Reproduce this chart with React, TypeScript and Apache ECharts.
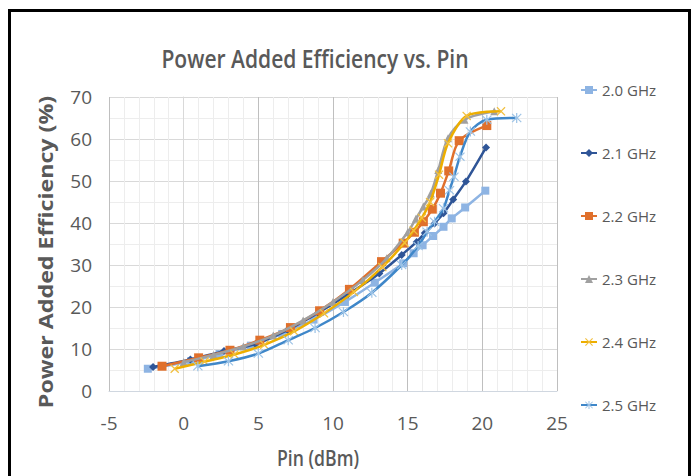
import React, { useEffect, useRef } from "react";
import * as echarts from "echarts";

const seriesNames = ["2.0 GHz", "2.1 GHz", "2.2 GHz", "2.3 GHz", "2.4 GHz", "2.5 GHz"];

const s20: number[][] = [[-2.4, 5.3], [0.5, 7.1], [2.4, 8.8], [4.5, 10.8], [6.6, 13.6], [8.7, 17.0], [10.8, 21.2], [12.8, 25.8], [14.7, 30.4], [15.4, 32.8], [16.0, 34.7], [16.7, 36.9], [17.4, 39.1], [17.95, 41.1], [18.85, 43.7], [20.2, 47.7]];
const s21: number[][] = [[-2.05, 5.7], [0.45, 7.5], [2.7, 9.5], [4.8, 11.2], [6.95, 14.5], [9.0, 18.6], [11.0, 23.0], [13.1, 28.0], [14.6, 32.4], [15.6, 35.5], [16.15, 37.6], [16.8, 39.9], [17.4, 42.3], [18.05, 45.6], [18.9, 49.9], [20.25, 58.0]];
const s22: number[][] = [[-1.45, 5.9], [1.0, 7.9], [3.1, 9.7], [5.1, 12.1], [7.15, 15.1], [9.1, 19.1], [11.1, 24.2], [13.25, 30.8], [14.7, 35.2], [15.45, 37.8], [16.05, 40.3], [16.65, 43.3], [17.2, 47.1], [17.75, 52.4], [18.45, 59.6], [20.3, 63.2]];
const s23: number[][] = [[0.0, 6.9], [2.0, 8.6], [4.0, 10.6], [6.0, 13.2], [8.0, 16.8], [10.0, 21.2], [12.0, 26.4], [13.6, 31.6], [15.0, 37.8], [15.55, 41.0], [16.05, 43.9], [16.55, 47.0], [17.05, 52.6], [17.7, 60.2], [18.8, 64.6], [20.8, 66.6]];
const s24: number[][] = [[-0.6, 5.3], [1.4, 7.0], [3.4, 8.7], [5.4, 11.0], [7.4, 14.2], [9.4, 18.5], [11.4, 23.6], [13.3, 29.5], [14.8, 35.3], [15.4, 38.2], [15.95, 41.2], [16.5, 45.0], [17.1, 51.5], [17.7, 59.0], [18.95, 65.5], [21.25, 66.6]];
const s25: number[][] = [[0.95, 5.9], [3.0, 7.1], [5.0, 8.9], [7.0, 12.1], [8.8, 15.0], [10.7, 18.8], [12.6, 23.4], [14.6, 30.0], [15.7, 34.5], [16.3, 37.9], [16.8, 40.3], [17.4, 43.5], [17.8, 47.8], [18.1, 51.0], [18.5, 55.8], [19.2, 61.8], [20.3, 64.6], [22.3, 65.0]];

const xTicks = { min: -5, max: 25, interval: 5 };
const yTicks = { min: 0, max: 70, interval: 10 };

const chartTitle = "Power Added Efficiency vs. Pin";
const xTitle = "Pin (dBm)";
const yTitle = "Power Added Efficiency (%)";

const FONT = "'Open Sans', 'Liberation Sans', sans-serif";
const X_SYM = "path://M0,1L1,0L5,4L9,0L10,1L6,5L10,9L9,10L5,6L1,10L0,9L4,5Z";
const AST_SYM = "path://M4.4,0H5.6V4L9,0.5L9.8,1.3L6.2,5L9.8,8.7L9,9.5L5.6,6V10H4.4V6L1,9.5L0.2,8.7L3.8,5L0.2,1.3L1,0.5L4.4,4Z";

export default function App() {
  const ref = useRef<HTMLDivElement>(null);
  useEffect(() => {
    if (!ref.current) return;
    const chart = echarts.init(ref.current, null, { renderer: "svg" });
    const data = [s20, s21, s22, s23, s24, s25];
    const lineColors = ["#8EB4E3", "#2F5597", "#E0702C", "#A0A0A0", "#EDAE00", "#3F87C9"];
    const markColors = ["#8EB4E3", "#2F5597", "#E0702C", "#A0A0A0", "#F2C040", "#9DC3E6"];
    const symbols = ["rect", "diamond", "rect", "triangle", X_SYM, AST_SYM];
    const sizes = [8, 8, 9, 8, 9, 10];
    chart.setOption({
      animation: false,
      backgroundColor: "#ffffff",
      grid: { left: 109, top: 97, width: 448, height: 294 },
      legend: {
        orient: "vertical",
        left: 580,
        top: 80,
        padding: 0,
        itemGap: 43,
        itemWidth: 16,
        itemHeight: 10,
        textStyle: { fontFamily: FONT, fontSize: 15, color: "#595959", lineHeight: 20 },
        data: seriesNames,
      },
      xAxis: {
        type: "value",
        min: xTicks.min,
        max: xTicks.max,
        interval: xTicks.interval,
        axisLine: { show: true, lineStyle: { color: "#D0D7E0", width: 1 } },
        axisTick: { show: false },
        axisLabel: { fontFamily: FONT, fontSize: 19, color: "#595959", margin: 22 },
        splitLine: { show: true, lineStyle: { color: "#BFBFBF", width: 1 } },
        minorTick: { show: false, splitNumber: 5 },
        minorSplitLine: { show: true, lineStyle: { color: "#EDEDED", width: 1 } },
      },
      yAxis: {
        type: "value",
        min: yTicks.min,
        max: yTicks.max,
        interval: yTicks.interval,
        axisLine: { show: true, lineStyle: { color: "#D9D9D9", width: 1 } },
        axisTick: { show: false },
        axisLabel: { fontFamily: FONT, fontSize: 19, color: "#595959", margin: 17 },
        splitLine: { show: true, lineStyle: { color: "#D9D9D9", width: 1 } },
        minorTick: { show: false, splitNumber: 2 },
        minorSplitLine: { show: true, lineStyle: { color: "#EDEDED", width: 1 } },
      },
      graphic: [
        {
          type: "rect",
          shape: { x: 9.5, y: 10.5, width: 680, height: 500 },
          style: { fill: "none", stroke: "#000", lineWidth: 3 },
          silent: true,
        },
        {
          type: "text",
          x: 315,
          y: 58,
          scaleX: 0.81,
          style: {
            text: chartTitle,
            fontFamily: FONT,
            fontSize: 26,
            fontWeight: 600,
            fill: "#595959",
            textAlign: "center",
            textVerticalAlign: "middle",
          },
        },
        {
          type: "text",
          x: 318,
          y: 458,
          scaleX: 0.84,
          style: {
            text: xTitle,
            fontFamily: FONT,
            fontSize: 21,
            fontWeight: 600,
            fill: "#595959",
            textAlign: "center",
            textVerticalAlign: "middle",
          },
        },
        {
          type: "text",
          x: 45,
          y: 252,
          rotation: Math.PI / 2,
          scaleX: 1.16,
          style: {
            text: yTitle,
            fontFamily: FONT,
            fontSize: 20,
            fontWeight: "bold",
            fill: "#595959",
            textAlign: "center",
            textVerticalAlign: "middle",
          },
        },
      ],
      series: data.map((d, i) => ({
        name: seriesNames[i],
        type: "line",
        data: d,
        smooth: 0.3,
        symbol: symbols[i],
        symbolSize: sizes[i],
        showSymbol: true,
        lineStyle: { color: lineColors[i], width: 2.5 },
        itemStyle: { color: markColors[i], borderWidth: 0 },
        z: 2 + i,
      })),
    });
    return () => chart.dispose();
  }, []);
  return (
    <div
      ref={ref}
      style={{ position: "fixed", left: 0, top: 0, width: 698, height: 476 }}
    />
  );
}
